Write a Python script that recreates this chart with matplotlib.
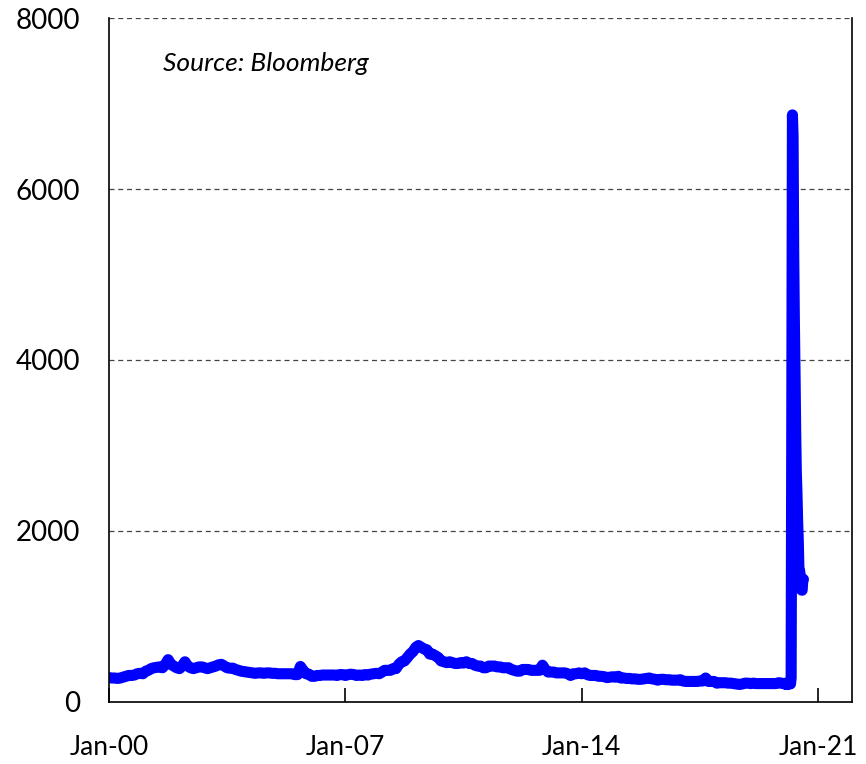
import matplotlib
matplotlib.use("Agg")
import matplotlib.pyplot as plt
import matplotlib.dates as mdates
import pandas as pd

plt.rcParams['font.family'] = ['Lato', 'DejaVu Sans']

# monthly initial jobless claims (thousands), 2000-2019
claims_monthly = [
    285, 280, 280, 275, 280, 290, 300, 310, 310, 315, 330, 335,   # 2000
    330, 360, 370, 390, 400, 405, 410, 400, 440, 495, 440, 420,   # 2001
    400, 390, 420, 470, 420, 400, 390, 400, 410, 410, 400, 390,   # 2002
    400, 410, 420, 435, 440, 420, 400, 395, 395, 380, 370, 360,   # 2003
    355, 350, 345, 340, 335, 340, 340, 335, 340, 340, 335, 335,   # 2004
    330, 330, 330, 330, 330, 330, 320, 320, 415, 370, 330, 325,   # 2005
    300, 300, 310, 310, 315, 315, 315, 315, 315, 310, 320, 320,   # 2006
    310, 320, 325, 320, 310, 315, 310, 320, 315, 325, 330, 335,   # 2007
    330, 350, 370, 370, 370, 390, 390, 440, 470, 480, 520, 560,   # 2008
    590, 640, 660, 640, 620, 610, 560, 560, 540, 520, 480, 470,   # 2009
    460, 470, 460, 450, 450, 460, 455, 470, 450, 450, 430, 420,   # 2010
    420, 400, 400, 420, 420, 420, 410, 410, 400, 400, 400, 380,   # 2011
    370, 360, 360, 380, 380, 380, 370, 370, 370, 370, 430, 380,   # 2012
    350, 350, 350, 340, 340, 340, 340, 330, 310, 330, 330, 340,   # 2013
    330, 340, 320, 310, 310, 310, 300, 300, 295, 285, 290, 295,   # 2014
    290, 300, 280, 280, 275, 275, 270, 270, 265, 265, 270, 275,   # 2015
    280, 270, 265, 255, 265, 265, 260, 260, 255, 255, 255, 260,   # 2016
    245, 240, 240, 240, 240, 240, 245, 245, 280, 240, 240, 240,   # 2017
    220, 225, 225, 225, 220, 220, 215, 210, 205, 210, 220, 220,   # 2018
    215, 220, 215, 215, 215, 215, 215, 215, 215, 215, 225, 220,   # 2019
]

# weekly claims 2020 (thousands)
claims_2020 = [214, 207, 220, 215, 203, 211, 219, 216, 217, 211, 282,
               3307, 6867, 6615, 5237, 4442, 3867, 3176, 2687, 2446,
               2123, 1897, 1566, 1540, 1482, 1413, 1310, 1307, 1422, 1435]

dates_monthly = pd.date_range("2000-01-01", periods=len(claims_monthly), freq="MS")
dates_2020 = pd.date_range("2020-01-04", periods=len(claims_2020), freq="7D")
dates = list(dates_monthly) + list(dates_2020)
values = claims_monthly + claims_2020

fig = plt.figure(figsize=(8.66, 7.64), dpi=100)
ax = fig.add_axes([0.1259, 0.0812, 0.8579, 0.8952])

ax.plot(dates, values, color='#0000FF', lw=8, solid_joinstyle='round',
        solid_capstyle='round')

ax.set_ylim(0, 8000)
ax.set_yticks([0, 2000, 4000, 6000, 8000])
ax.set_xlim(pd.Timestamp("2000-01-01"), pd.Timestamp("2022-01-01"))
ax.set_xticks([pd.Timestamp(f"{y}-01-01") for y in (2000, 2007, 2014, 2021)])
ax.xaxis.set_major_formatter(mdates.DateFormatter("%b-%y"))

ax.yaxis.grid(True, linestyle=(0, (4, 3)), color='#444444', lw=0.9)
ax.set_axisbelow(True)
ax.spines['top'].set_visible(False)
for s in ('left', 'bottom', 'right'):
    ax.spines[s].set_linewidth(1.2)

ax.tick_params(axis='y', length=0, labelsize=20, pad=21)
ax.tick_params(axis='x', direction='in', length=10, width=1.2, labelsize=19, pad=24)

ax.text(0.073, 0.934, "Source: Bloomberg", transform=ax.transAxes,
        fontsize=19, style='italic', va='center')

fig.savefig("out.png", dpi=100)
